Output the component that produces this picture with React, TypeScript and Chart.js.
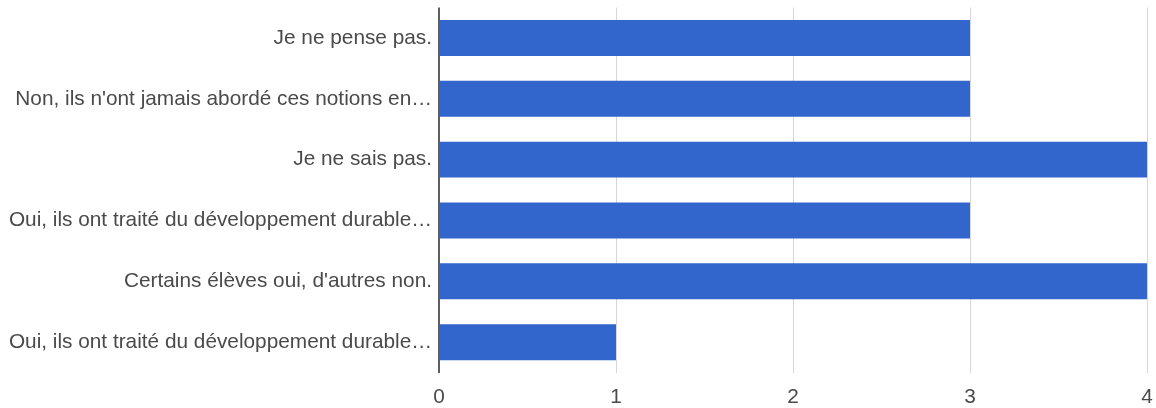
import React, { useEffect, useRef } from "react";
import { Chart, registerables } from "chart.js";

Chart.register(...registerables);

const categories = [
  "Je ne pense pas.",
  "Non, ils n'ont jamais abordé ces notions en…",
  "Je ne sais pas.",
  "Oui, ils ont traité du développement durable…",
  "Certains élèves oui, d'autres non.",
  "Oui, ils ont traité du développement durable…",
];
const values = [3, 3, 4, 3, 4, 1];
const xTicks = [0, 1, 2, 3, 4];

export default function App() {
  const ref = useRef<HTMLCanvasElement | null>(null);
  useEffect(() => {
    document.body.style.margin = "0";
    const ctx = ref.current!;
    const font = { family: "'Liberation Sans', Arial, sans-serif", size: 20.8 };
    const chart = new Chart(ctx, {
      type: "bar",
      data: {
        labels: categories,
        datasets: [
          {
            data: values,
            backgroundColor: "#3366cc",
            borderWidth: 0,
            categoryPercentage: 1,
            barPercentage: 0.59,
          },
        ],
      },
      options: {
        indexAxis: "y",
        animation: false,
        responsive: false,
        maintainAspectRatio: false,
        layout: { padding: { top: 7.5, right: 9, left: 0, bottom: 0 } },
        plugins: { legend: { display: false }, tooltip: { enabled: false } },
        scales: {
          x: {
            min: 0,
            max: 4,
            afterBuildTicks: (axis: any) => {
              axis.ticks = xTicks.map((v) => ({ value: v }));
            },
            afterFit: (axis: any) => {
              axis.height = 35.4;
              axis.paddingLeft = 0;
              axis.paddingRight = 0;
            },
            grid: {
              color: (c: any) => (c.tick && c.tick.value === 0 ? "#5f5f5f" : "#d6d6d6"),
              lineWidth: (c: any) => (c.tick && c.tick.value === 0 ? 2 : 1),
              drawTicks: false,
            },
            border: { display: false },
            ticks: { color: "#4a4a4a", font, padding: 12 },
          },
          y: {
            afterFit: (axis: any) => {
              axis.width = 439;
              axis.paddingTop = 0;
              axis.paddingBottom = 0;
            },
            grid: { display: false, drawTicks: false },
            border: { display: false },
            ticks: { color: "#4a4a4a", font, padding: 7, autoSkip: false },
          },
        },
      },
    });
    return () => chart.destroy();
  }, []);
  return (
    <div style={{ position: "fixed", left: 0, top: 0, width: 1156, height: 408 }}>
      <canvas ref={ref} width={1156} height={408} style={{ width: 1156, height: 408 }} />
    </div>
  );
}
